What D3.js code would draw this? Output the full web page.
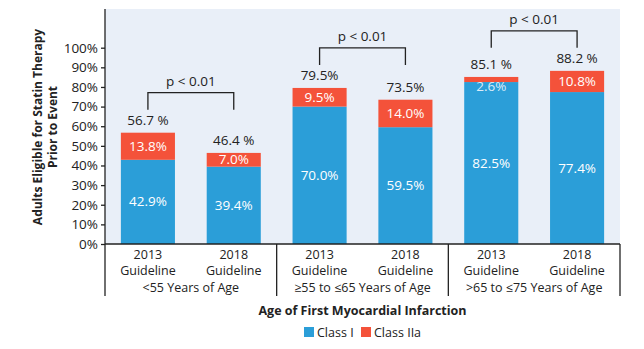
<!DOCTYPE html>
<html>
<head>
<meta charset="utf-8">
<script src="https://cdn.jsdelivr.net/npm/d3@7"></script>
<style>
  body { margin: 0; background: #fff; }
  svg { font-family: "Open Sans", "Noto Sans", sans-serif; }
</style>
</head>
<body>
<svg id="chart" width="644" height="349"></svg>
<script>
// DATA
const years = ["2013", "2018"];
const ageGroups = ["<55 Years of Age", "\u226555 to \u226465 Years of Age", ">65 to \u226475 Years of Age"];
const classI = [42.9, 39.4, 70.0, 59.5, 82.5, 77.4];
const classIIa = [13.8, 7.0, 9.5, 14.0, 2.6, 10.8];
const totalSpace = [" ", " ", "", "", " ", " "];
const pLabels = ["p < 0.01", "p < 0.01", "p < 0.01"];
const yTicks = [0, 10, 20, 30, 40, 50, 60, 70, 80, 90, 100];
const seriesNames = ["Class I", "Class IIa"];

const colors = { "Class I": "#2b9ed8", "Class IIa": "#f4523a" };

const rows = classI.map((v, i) => ({
    id: i,
    group: Math.floor(i / 2),
    year: years[i % 2],
    "Class I": v,
    "Class IIa": classIIa[i]
}));

const margin = { top: 9, right: 24, bottom: 105, left: 105 };
const width = 644, height = 349;
const svg = d3.select("svg#chart");

// SCALES
const xScale = d3.scaleBand()
    .domain(rows.map(d => d.id))
    .range([margin.left, width - margin.right])
    .paddingInner(0.37)
    .paddingOuter(0.185);

const yScale = d3.scaleLinear()
    .domain([0, 100])
    .range([244, 47.7]);

const groupWidth = xScale.step() * 2;
const groupX = g => margin.left + g * groupWidth;

// plot background
svg.append("rect")
    .attr("x", margin.left)
    .attr("y", margin.top)
    .attr("width", width - margin.right - margin.left)
    .attr("height", yScale(0) - margin.top)
    .attr("fill", "#e9eff8");

// BARS
const stacked = d3.stack().keys(seriesNames)(rows);

const layers = svg.append("g").selectAll("g")
    .data(stacked)
    .join("g")
    .attr("fill", d => colors[d.key]);

layers.selectAll("rect")
    .data(d => d)
    .join("rect")
    .attr("x", d => xScale(d.data.id))
    .attr("width", xScale.bandwidth())
    .attr("y", d => yScale(d[1]))
    .attr("height", d => yScale(d[0]) - yScale(d[1]));

// segment labels
stacked.forEach(layer => {
    svg.append("g").selectAll("text")
        .data(layer)
        .join("text")
        .attr("x", d => xScale(d.data.id) + xScale.bandwidth() / 2)
        .attr("y", d => {
            const top = yScale(d[1]), bottom = yScale(d[0]);
            const mid = (top + bottom) / 2;
            return (bottom - top < 12 ? top + 10 : mid) + 4.5;
        })
        .attr("text-anchor", "middle")
        .attr("font-size", 13.5)
        .attr("fill", d => (yScale(d[0]) - yScale(d[1]) < 12 ? "#dcecf8" : "#fff"))
        .text(d => (d[1] - d[0]).toFixed(1) + "%");
});

// totals above bars
svg.append("g").selectAll("text")
    .data(rows)
    .join("text")
    .attr("x", d => xScale(d.id) + xScale.bandwidth() / 2)
    .attr("y", d => yScale(d["Class I"] + d["Class IIa"]) - 8)
    .attr("text-anchor", "middle")
    .attr("font-size", 13.5)
    .attr("fill", "#222")
    .text(d => (d["Class I"] + d["Class IIa"]).toFixed(1) + totalSpace[d.id] + "%");

// p-value brackets
pLabels.forEach((label, g) => {
    const pair = rows.filter(d => d.group === g);
    const maxTotal = d3.max(pair, d => d["Class I"] + d["Class IIa"]);
    const legBottom = yScale(maxTotal) - 23;
    const barTop = legBottom - 17;
    const x0 = xScale(pair[0].id) + xScale.bandwidth() / 2;
    const x1 = xScale(pair[1].id) + xScale.bandwidth() / 2;
    svg.append("path")
        .attr("d", `M${x0},${legBottom}V${barTop}H${x1}V${legBottom}`)
        .attr("fill", "none")
        .attr("stroke", "#222")
        .attr("stroke-width", 1.3);
    svg.append("text")
        .attr("x", (x0 + x1) / 2)
        .attr("y", barTop - 7)
        .attr("text-anchor", "middle")
        .attr("font-size", 13.5)
        .attr("fill", "#222")
        .text(label);
});

// AXIS
const yAxis = g => g.attr("transform", `translate(${margin.left},0)`)
    .call(d3.axisLeft(yScale).tickValues(yTicks).tickFormat(d => d + "%").tickSize(4))
    .call(g => g.select(".domain").remove())
    .call(g => g.selectAll("line").attr("stroke", "#222").attr("stroke-width", 1.3))
    .call(g => g.selectAll("text").attr("font-size", 13.5).attr("fill", "#222").attr("x", -7));

svg.append("g").call(yAxis).attr("font-family", null);

// axis frame and category box
const frame = svg.append("g").attr("stroke", "#222").attr("stroke-width", 1.3);
frame.append("line")
    .attr("x1", margin.left).attr("x2", margin.left)
    .attr("y1", margin.top).attr("y2", 296);
frame.append("line")
    .attr("x1", margin.left).attr("x2", width - margin.right)
    .attr("y1", yScale(0)).attr("y2", yScale(0));
[1, 2, 3].forEach(g => {
    frame.append("line")
        .attr("x1", groupX(g)).attr("x2", groupX(g))
        .attr("y1", yScale(0)).attr("y2", 296);
});

// category labels
const catLabels = svg.append("g").attr("fill", "#222").attr("font-size", 12.5).attr("text-anchor", "middle");
rows.forEach(d => {
    const cx = xScale(d.id) + xScale.bandwidth() / 2;
    catLabels.append("text").attr("x", cx).attr("y", 259).text(d.year);
    catLabels.append("text").attr("x", cx).attr("y", 275).text("Guideline");
});
ageGroups.forEach((label, g) => {
    catLabels.append("text")
        .attr("x", groupX(g) + groupWidth / 2)
        .attr("y", 292)
        .text(label);
});

// axis titles
const plotMid = (margin.left + width - margin.right) / 2;
svg.append("text")
    .attr("x", plotMid)
    .attr("y", 315)
    .attr("text-anchor", "middle")
    .attr("font-size", 12.5)
    .attr("font-weight", "bold")
    .attr("fill", "#222")
    .text("Age of First Myocardial Infarction");

const yTitle = svg.append("text")
    .attr("transform", "translate(0,127) rotate(-90)")
    .attr("text-anchor", "middle")
    .attr("font-size", 12)
    .attr("font-weight", "bold")
    .attr("fill", "#222");
yTitle.append("tspan").attr("x", 0).attr("y", 42).text("Adults Eligible for Statin Therapy");
yTitle.append("tspan").attr("x", 0).attr("y", 57).text("Prior to Event");

// LEGEND
const legendX = [304, 361];
const legend = svg.append("g").selectAll("g")
    .data(seriesNames)
    .join("g")
    .attr("transform", (d, i) => `translate(${legendX[i]},327)`);
legend.append("rect")
    .attr("width", 10)
    .attr("height", 10)
    .attr("fill", d => colors[d]);
legend.append("text")
    .attr("x", 13)
    .attr("y", 10)
    .attr("font-size", 12.5)
    .attr("fill", "#222")
    .text(d => d);
</script>
</body>
</html>
